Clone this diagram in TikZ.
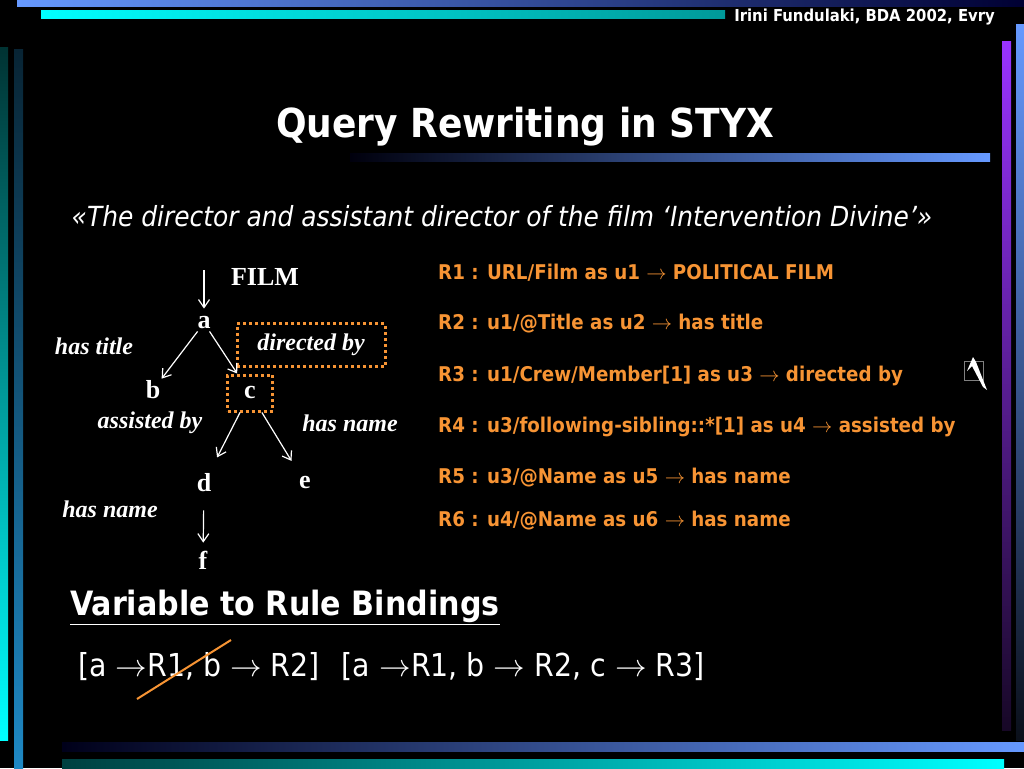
\documentclass[tikz,border=0pt]{standalone}
\usepackage{fix-cm}
\usepackage{fontspec}
\setmainfont{DejaVu Sans Condensed}
\newfontfamily\timesfont{Liberation Serif}
\usetikzlibrary{arrows.meta}

\definecolor{rulecol}{RGB}{247,148,52}
\definecolor{barblue}{RGB}{102,153,255}
\definecolor{barcyan}{RGB}{0,255,255}
\definecolor{barpurple}{RGB}{153,51,255}
\definecolor{bartealtop}{RGB}{8,36,52}
\definecolor{bartealbot}{RGB}{30,136,196}

\begin{document}
\begin{tikzpicture}[x=1pt, y=-1pt,
		treeletter/.style={font=\timesfont\bfseries\fontsize{26}{26}\selectfont, text=white, inner sep=2pt},
		treelabel/.style={font=\timesfont\bfseries\itshape\fontsize{24}{24}\selectfont, text=white, inner sep=0pt},
		treearrow/.style={draw=white, line width=1.2pt, -{Straight Barb[length=8pt, width=11pt, line width=1.2pt]}},
		dotbox/.style={draw=rulecol, line width=3pt, dash pattern=on 3pt off 3pt},
		ruletext/.style={font=\bfseries\fontsize{20.3}{20.3}\selectfont, text=rulecol, anchor=west, inner sep=0pt}]

		\useasboundingbox (0, 0) rectangle (1024, 768);
		\fill[black] (0, 0) rectangle (1024, 768);

		% bars round the page
		\shade[left color=barblue, right color=black!80!blue] (17, 0) rectangle (1024, 7);
		\shade[left color=barcyan, right color=black!40!barcyan] (41, 11) rectangle (725, 19);
		\shade[top color=black!80!barcyan, bottom color=barcyan] (0, 48) rectangle (8, 740);
		\shade[top color=bartealtop, bottom color=bartealbot] (14, 50) rectangle (23, 768);
		\shade[top color=barpurple, bottom color=barpurple!15!black] (1002, 42) rectangle (1011, 730);
		\shade[top color=barblue, bottom color=barblue!10!black] (1016, 25) rectangle (1024, 740);
		\shade[left color=black!90!blue, right color=barblue] (62, 742) rectangle (1024, 751);
		\shade[left color=black!75!barcyan, right color=barcyan] (62, 759) rectangle (1004, 768);
		\shade[left color=black!95!blue, right color=barblue] (350, 153) rectangle (990, 161);

		\node[anchor=east, text=white, font=\bfseries\fontsize{16.5}{16.5}\selectfont, inner sep=0pt] (credit) at(995, 17){Irini Fundulaki, BDA 2002, Evry};
		\node[text=white, font=\bfseries\fontsize{40}{40}\selectfont, inner sep=0pt] (title) at(525, 127){Query Rewriting in STYX};
		\node[text=white, font=\itshape\fontsize{27.7}{27.7}\selectfont, inner sep=0pt] (query) at(502, 216){«The director and assistant director of the film ‘Intervention Divine’»};

		% the tree
		\node[treeletter] (film) at(265, 277){FILM};
		\coordinate (top) at(204, 270);
		\node[treeletter] (a) at(204, 323){a};
		\node[treeletter] (b) at(153, 390){b};
		\node[treeletter, dotbox, minimum width=45pt, minimum height=36pt] (c) at(250, 393){\raisebox{2pt}{c}};
		\node[treeletter] (d) at(204, 483){d};
		\node[treeletter] (e) at(305, 483){e};
		\node[treeletter] (f) at(203, 560){f};

		\node[treelabel] (title lbl) at(94, 346){has title};
		\node[treelabel, dotbox, minimum width=148pt, minimum height=43pt] (directed) at(311, 345){directed by};
		\node[treelabel] (assisted) at(150, 423){assisted by};
		\node[treelabel] (cname) at(350, 423){has name};
		\node[treelabel] (dname) at(110, 509){has name};

		\draw[treearrow, shorten >=6pt] (top) -- (a);
		\draw[treearrow] (a) -- (b);
		\draw[treearrow] (a) -- (c);
		\draw[treearrow, shorten >=16pt] (c) -- (d);
		\draw[treearrow, shorten >=16pt] (c) -- (e);
		\draw[treearrow, shorten <=16pt, shorten >=6pt] (d) -- (f);

		% the rules
		\node[ruletext] (r1) at(438, 273){R1 : URL/Film as u1 $\rightarrow$ POLITICAL FILM};
		\node[ruletext] (r2) at(438, 324){R2 : u1/@Title as u2 $\rightarrow$ has title};
		\node[ruletext] (r3) at(438, 376){R3 : u1/Crew/Member[1] as u3 $\rightarrow$ directed by};
		\node[ruletext] (r4) at(438, 427){R4 : u3/following-sibling::*[1] as u4 $\rightarrow$ assisted by};
		\node[ruletext] (r5) at(438, 478){R5 : u3/@Name as u5 $\rightarrow$ has name};
		\node[ruletext] (r6) at(438, 521){R6 : u4/@Name as u6 $\rightarrow$ has name};

		% pointer icon
		\draw[gray, line width=0.6pt] (964, 361) rectangle (983, 380);
		\fill[white] (967, 371) -- (973, 357) -- (976, 362) -- (987, 390) -- (983, 387) -- (972, 366) -- cycle;

		% bindings
		\node[anchor=west, text=white, font=\bfseries\fontsize{33.5}{33.5}\selectfont, inner sep=0pt] (bindings) at(70, 607){\underline{Variable to Rule Bindings}};
		\node[anchor=west, text=white, font=\fontsize{31.6}{31.6}\selectfont, inner sep=0pt] (binds) at(78, 667){[a $\rightarrow$R1, b $\rightarrow$ R2]\hspace{22pt}[a $\rightarrow$R1, b $\rightarrow$ R2, c $\rightarrow$ R3]};
		\draw[rulecol, line width=2pt] (137, 699) -- (231, 640);

	\end{tikzpicture}
\end{document}
